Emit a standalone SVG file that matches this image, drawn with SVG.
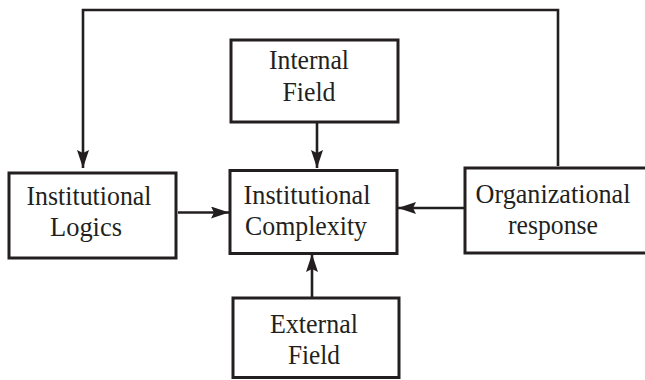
<svg xmlns="http://www.w3.org/2000/svg" width="645" height="380" viewBox="0 0 645 380">
<style>
.box{fill:#fff;stroke:#231f20;stroke-width:3}
.lbl{font-family:"Liberation Serif","Times New Roman",serif;font-size:27.5px;fill:#231f20;text-anchor:middle}
.con{fill:none;stroke:#231f20;stroke-width:2.6}
</style>
<defs>
<marker id="ah" viewBox="0 0 18 12" refX="18" refY="6" markerWidth="18" markerHeight="12" markerUnits="userSpaceOnUse" orient="auto">
<path d="M0,0 L18,6 L0,12 L3,6 Z" fill="#231f20"/>
</marker>
</defs>
<g id="connectors">
<polyline class="con" points="558,166 558,10 83,10 83,168" marker-end="url(#ah)"/>
<line class="con" x1="317" y1="123" x2="317" y2="168" marker-end="url(#ah)"/>
<line class="con" x1="178" y1="212.5" x2="229" y2="212.5" marker-end="url(#ah)"/>
<line class="con" x1="465" y1="208" x2="398" y2="208" marker-end="url(#ah)"/>
<line class="con" x1="312" y1="297" x2="312" y2="254" marker-end="url(#ah)"/>
</g>
<g id="internal-field">
<rect class="box" x="231" y="40" width="167" height="82"/>
<text class="lbl" x="309" y="69" textLength="80" lengthAdjust="spacingAndGlyphs">Internal</text>
<text class="lbl" x="309" y="101" textLength="53" lengthAdjust="spacingAndGlyphs">Field</text>
</g>
<g id="institutional-logics">
<rect class="box" x="9" y="173" width="167" height="85"/>
<text class="lbl" x="89" y="205" textLength="125" lengthAdjust="spacingAndGlyphs">Institutional</text>
<text class="lbl" x="86" y="236" textLength="72" lengthAdjust="spacingAndGlyphs">Logics</text>
</g>
<g id="institutional-complexity">
<rect class="box" x="230" y="170.5" width="167" height="83"/>
<text class="lbl" x="307" y="204" textLength="127" lengthAdjust="spacingAndGlyphs">Institutional</text>
<text class="lbl" x="306" y="235" textLength="122" lengthAdjust="spacingAndGlyphs">Complexity</text>
</g>
<g id="organizational-response">
<rect class="box" x="465" y="168" width="185" height="85"/>
<text class="lbl" x="553" y="203" textLength="155" lengthAdjust="spacingAndGlyphs">Organizational</text>
<text class="lbl" x="553" y="234" textLength="90" lengthAdjust="spacingAndGlyphs">response</text>
</g>
<g id="external-field">
<rect class="box" x="233" y="298" width="166" height="79.5"/>
<text class="lbl" x="314" y="333" textLength="88" lengthAdjust="spacingAndGlyphs">External</text>
<text class="lbl" x="314" y="364" textLength="52" lengthAdjust="spacingAndGlyphs">Field</text>
</g>
</svg>
